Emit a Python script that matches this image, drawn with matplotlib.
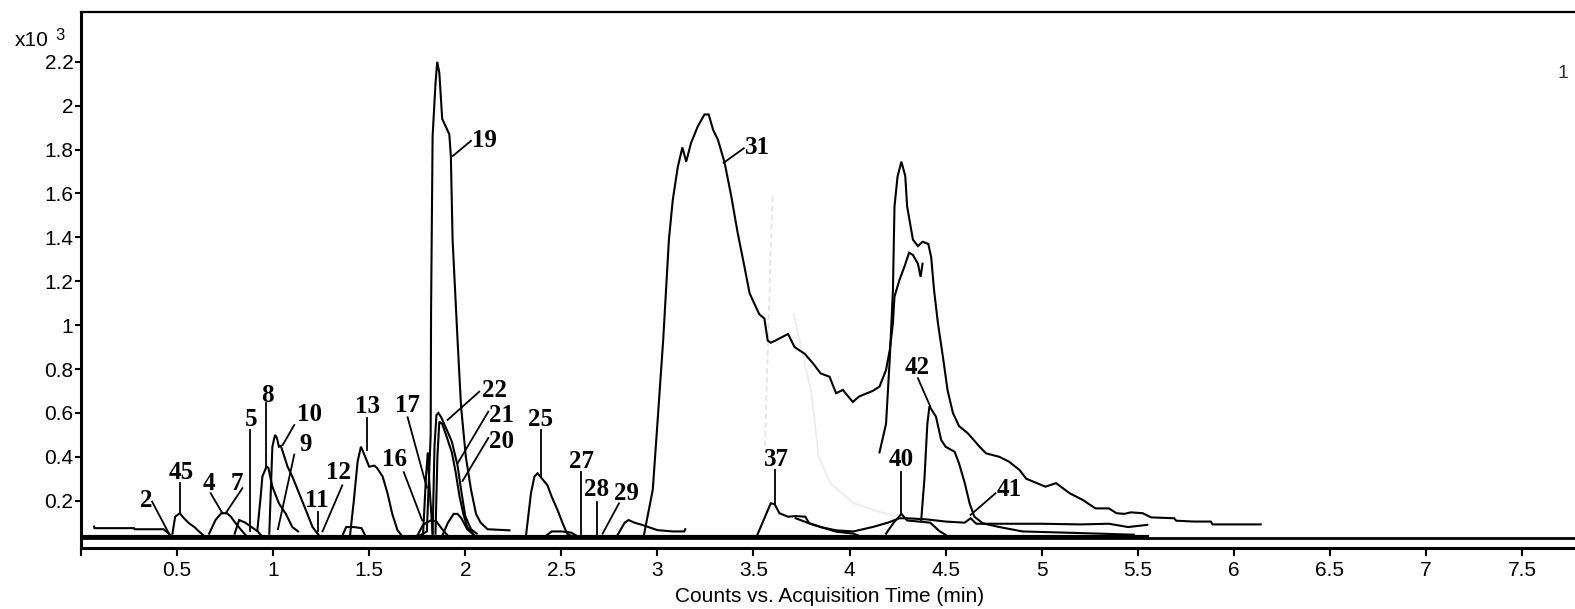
import matplotlib
matplotlib.use("Agg")
import matplotlib.pyplot as plt

# retention time (min) and counts (x10^3)
floor_t = [0.0, 7.78]
floor_y = [0.03, 0.03]
floor2_t = [0.0, 5.55]
floor2_y = [0.034, 0.034]

front_t = [0.068, 0.07, 0.276, 0.28, 0.43, 0.45, 0.47]
front_y = [0.082, 0.075, 0.075, 0.07, 0.07, 0.055, 0.04]

p45_t = [0.476, 0.49, 0.514, 0.536, 0.5625, 0.59, 0.614, 0.64]
p45_y = [0.05, 0.127, 0.143, 0.12, 0.097, 0.08, 0.06, 0.04]

p4_t = [0.667, 0.7, 0.73, 0.76, 0.78, 0.805, 0.84, 0.86]
p4_y = [0.05, 0.112, 0.143, 0.143, 0.127, 0.097, 0.06, 0.04]

p7_t = [0.8, 0.823, 0.855, 0.887, 0.92, 0.94]
p7_y = [0.05, 0.112, 0.1, 0.08, 0.06, 0.04]

p8_t = [0.918, 0.935, 0.944, 0.965, 0.975, 0.996, 1.03, 1.066, 1.1, 1.13]
p8_y = [0.066, 0.218, 0.31, 0.355, 0.35, 0.264, 0.188, 0.14, 0.08, 0.06]

p10_t = [0.98, 0.996, 1.01, 1.02, 1.03, 1.04, 1.05, 1.075, 1.1, 1.135, 1.17, 1.205, 1.24]
p10_y = [0.05, 0.446, 0.5, 0.485, 0.446, 0.45, 0.424, 0.355, 0.31, 0.234, 0.158, 0.08, 0.04]

bump142_t = [1.36, 1.38, 1.42, 1.46, 1.48]
bump142_y = [0.04, 0.08, 0.08, 0.075, 0.04]

p13_t = [1.40, 1.42, 1.44, 1.457, 1.47, 1.50, 1.526, 1.54, 1.57, 1.595, 1.62, 1.647, 1.67]
p13_y = [0.04, 0.2, 0.38, 0.446, 0.42, 0.355, 0.36, 0.35, 0.31, 0.235, 0.14, 0.066, 0.04]

p16_t = [1.75, 1.78, 1.82, 1.85, 1.88, 1.91]
p16_y = [0.04, 0.09, 0.11, 0.105, 0.07, 0.04]

p17_t = [1.78, 1.795, 1.805, 1.815, 1.83]
p17_y = [0.04, 0.3, 0.42, 0.25, 0.05]

p19_t = [1.76, 1.80, 1.82, 1.822, 1.83, 1.845, 1.854, 1.865, 1.88, 1.917, 1.925,
         1.934, 1.96, 1.978, 2.003, 2.03, 2.056, 2.08, 2.116, 2.23]
p19_y = [0.04, 0.06, 0.5, 1.06, 1.86, 2.1, 2.2, 2.15, 1.94, 1.87, 1.77,
         1.39, 0.93, 0.63, 0.40, 0.25, 0.14, 0.10, 0.07, 0.065]

p20_t = [1.88, 1.91, 1.94, 1.96, 1.98, 2.01, 2.05]
p20_y = [0.04, 0.1, 0.14, 0.14, 0.12, 0.07, 0.04]

p21_t = [1.845, 1.855, 1.865, 1.88, 1.9, 1.93, 1.95, 1.97, 1.99, 2.01, 2.04]
p21_y = [0.05, 0.4, 0.56, 0.55, 0.5, 0.42, 0.33, 0.22, 0.14, 0.08, 0.05]

p22_t = [1.83, 1.84, 1.85, 1.86, 1.875, 1.9, 1.93, 1.96, 1.98, 2.0, 2.03, 2.06]
p22_y = [0.05, 0.45, 0.59, 0.6, 0.58, 0.53, 0.47, 0.36, 0.24, 0.13, 0.07, 0.05]

p25_t = [2.316, 2.342, 2.36, 2.376, 2.40, 2.428, 2.45, 2.48, 2.507, 2.53, 2.55]
p25_y = [0.04, 0.234, 0.31, 0.325, 0.30, 0.27, 0.218, 0.158, 0.097, 0.05, 0.04]

bump25_t = [2.42, 2.45, 2.5, 2.55, 2.58]
bump25_y = [0.04, 0.06, 0.06, 0.055, 0.04]

p29_t = [2.79, 2.83, 2.85, 2.88, 2.92, 2.97, 3.0, 3.08, 3.14, 3.145]
p29_y = [0.04, 0.1, 0.112, 0.1, 0.09, 0.075, 0.066, 0.06, 0.06, 0.07]

p31_t = [2.93, 2.976, 3.0, 3.03, 3.045, 3.06, 3.08, 3.106, 3.13, 3.15, 3.175, 3.21,
         3.245, 3.267, 3.29, 3.315, 3.35, 3.384, 3.418, 3.45, 3.48, 3.53, 3.557,
         3.574, 3.59, 3.615, 3.68, 3.714, 3.766, 3.81, 3.85, 3.896, 3.93, 3.965,
         4.017, 4.05, 4.12, 4.156, 4.19, 4.21, 4.226, 4.234, 4.26, 4.286, 4.31,
         4.33, 4.356, 4.37, 4.38]
p31_y = [0.044, 0.25, 0.55, 0.93, 1.16, 1.39, 1.57, 1.72, 1.81, 1.745, 1.83, 1.905,
         1.96, 1.96, 1.89, 1.845, 1.74, 1.59, 1.42, 1.28, 1.145, 1.05, 1.03,
         0.93, 0.92, 0.93, 0.96, 0.90, 0.87, 0.826, 0.78, 0.765, 0.69, 0.705,
         0.65, 0.675, 0.70, 0.72, 0.795, 0.89, 1.01, 1.13, 1.206, 1.267, 1.33,
         1.32, 1.28, 1.22, 1.28]

p37_t = [3.52, 3.59, 3.61, 3.635, 3.68, 3.72, 3.77, 3.79, 3.85, 3.93, 4.02, 4.05]
p37_y = [0.044, 0.188, 0.185, 0.143, 0.127, 0.13, 0.127, 0.097, 0.08, 0.059, 0.05, 0.04]

p40_t = [4.19, 4.23, 4.27, 4.3, 4.36, 4.42, 4.47, 4.5]
p40_y = [0.05, 0.1, 0.14, 0.11, 0.105, 0.1, 0.06, 0.045]

p41_t = [3.72, 3.78, 3.85, 3.93, 4.02, 4.12, 4.2, 4.26, 4.3, 4.4, 4.5, 4.6, 4.63,
         4.66, 4.8, 5.0, 5.2, 5.35, 5.45, 5.55]
p41_y = [0.12, 0.1, 0.08, 0.065, 0.06, 0.08, 0.1, 0.12, 0.12, 0.115, 0.105, 0.1, 0.12,
         0.095, 0.095, 0.095, 0.092, 0.095, 0.08, 0.09]

p42_t = [4.373, 4.39, 4.405, 4.416, 4.45, 4.477, 4.5, 4.547, 4.57, 4.6, 4.625, 4.65,
         4.694, 4.78, 4.9, 5.1, 5.3, 5.48]
p42_y = [0.11, 0.3, 0.55, 0.63, 0.583, 0.477, 0.446, 0.423, 0.37, 0.28, 0.188, 0.127,
         0.097, 0.08, 0.06, 0.055, 0.05, 0.045]

p43_t = [4.156, 4.19, 4.21, 4.226, 4.234, 4.25, 4.27, 4.29, 4.30, 4.33, 4.356, 4.38,
         4.41, 4.425, 4.44, 4.46, 4.486, 4.51, 4.538, 4.57, 4.616, 4.677, 4.71, 4.78,
         4.83, 4.885, 4.92, 5.02, 5.075, 5.146, 5.215, 5.28, 5.35, 5.39, 5.43, 5.465,
         5.526, 5.57, 5.69, 5.70, 5.79, 5.88, 5.89, 6.14]
p43_y = [0.42, 0.55, 0.856, 1.16, 1.54, 1.677, 1.745, 1.68, 1.54, 1.39, 1.36, 1.38,
         1.37, 1.31, 1.16, 1.01, 0.856, 0.705, 0.6, 0.54, 0.507, 0.446, 0.416, 0.40,
         0.378, 0.34, 0.30, 0.264, 0.28, 0.234, 0.203, 0.165, 0.165, 0.143, 0.14, 0.147,
         0.143, 0.124, 0.12, 0.109, 0.105, 0.105, 0.092, 0.092]

# faint grey ghost trace behind 31
ghost1_t = [3.56, 3.575, 3.59, 3.60]
ghost1_y = [0.45, 0.9, 1.35, 1.6]
ghost2_t = [3.71, 3.76, 3.80, 3.84, 3.9, 4.02, 4.15, 4.24]
ghost2_y = [1.05, 0.85, 0.7, 0.4, 0.28, 0.19, 0.15, 0.13]

# peak labels: text, label centre (t, y), leader start, leader end
peak_names = ["2", "45", "4", "7", "5", "8", "10", "9", "11", "12", "13", "16", "17",
              "19", "22", "21", "20", "25", "27", "28", "29", "31", "37", "40", "42", "41"]
label_t = [0.34, 0.52, 0.667, 0.81, 0.884, 0.97, 1.19, 1.17, 1.226, 1.34, 1.49, 1.63, 1.70,
           2.10, 2.15, 2.19, 2.19, 2.39, 2.607, 2.685, 2.84, 3.52, 3.62, 4.27, 4.35, 4.83]
label_y = [0.20, 0.33, 0.28, 0.28, 0.57, 0.68, 0.595, 0.455, 0.20, 0.33, 0.63, 0.39, 0.636,
           1.84, 0.70, 0.59, 0.47, 0.57, 0.38, 0.25, 0.235, 1.81, 0.39, 0.39, 0.805, 0.25]
lead_t0 = [0.37, 0.514, 0.675, 0.84, 0.88, 0.965, 1.11, 1.11, 1.236, 1.36, 1.486, 1.68, 1.70,
           2.03, 2.073, 2.12, 2.12, 2.394, 2.60, 2.685, 2.80, 3.45, 3.61, 4.27, 4.356, 4.76]
lead_y0 = [0.196, 0.28, 0.234, 0.257, 0.522, 0.644, 0.545, 0.41, 0.15, 0.27, 0.577, 0.33, 0.58,
           1.84, 0.697, 0.606, 0.486, 0.52, 0.33, 0.196, 0.188, 1.806, 0.34, 0.33, 0.758, 0.234]
lead_t1 = [0.458, 0.514, 0.736, 0.753, 0.88, 0.965, 1.05, 1.025, 1.236, 1.257, 1.486, 1.776, 1.80,
           1.934, 1.908, 1.96, 1.986, 2.394, 2.60, 2.685, 2.715, 3.345, 3.61, 4.27, 4.42, 4.63]
lead_y1 = [0.05, 0.143, 0.143, 0.143, 0.06, 0.355, 0.454, 0.07, 0.06, 0.06, 0.43, 0.11, 0.26,
           1.77, 0.568, 0.37, 0.29, 0.31, 0.05, 0.05, 0.05, 1.74, 0.188, 0.143, 0.63, 0.135]

x_ticks = [0, 0.5, 1, 1.5, 2, 2.5, 3, 3.5, 4, 4.5, 5, 5.5, 6, 6.5, 7, 7.5]
y_ticks = [0.2, 0.4, 0.6, 0.8, 1, 1.2, 1.4, 1.6, 1.8, 2, 2.2]

W, H = 1575, 609


def main():
   plt.rcParams['font.family'] = ['Liberation Sans', 'DejaVu Sans']
   fig = plt.figure(figsize=(W / 100, H / 100), dpi=100)
   ax = fig.add_axes([81 / W, 1 - 548 / H, 1 - 81 / W, (548 - 12) / H])

   ax.plot(ghost1_t, ghost1_y, color='#e4e4e4', lw=1.3, ls=(0, (3, 2)))
   ax.plot(ghost2_t, ghost2_y, color='#ececec', lw=1.3)

   ax.plot(floor_t, floor_y, color='black', lw=2.0)
   ax.plot(floor2_t, floor2_y, color='black', lw=3.0)

   traces = [(front_t, front_y), (p45_t, p45_y), (p4_t, p4_y), (p7_t, p7_y),
             (p8_t, p8_y), (p10_t, p10_y), (bump142_t, bump142_y), (p13_t, p13_y),
             (p16_t, p16_y), (p17_t, p17_y), (p19_t, p19_y), (p20_t, p20_y),
             (p21_t, p21_y), (p22_t, p22_y), (p25_t, p25_y), (bump25_t, bump25_y),
             (p29_t, p29_y), (p31_t, p31_y), (p37_t, p37_y), (p40_t, p40_y),
             (p41_t, p41_y), (p42_t, p42_y), (p43_t, p43_y)]
   for t, y in traces:
      ax.plot(t, y, color='black', lw=1.5, solid_joinstyle='miter')

   for i in range(len(peak_names)):
      ax.plot([lead_t0[i], lead_t1[i]], [lead_y0[i], lead_y1[i]], color='black', lw=1.3)
      ax.text(label_t[i], label_y[i], peak_names[i], ha='center', va='center',
              fontsize=18, fontweight='bold', family=['Liberation Serif', 'DejaVu Serif'])

   ax.set_xlim(0, 7.776)
   ax.set_ylim(-0.0155, 2.427)
   ax.set_xticks(x_ticks)
   ax.set_xticklabels(["" if v == 0 else "%g" % v for v in x_ticks])
   ax.set_yticks(y_ticks)
   ax.set_yticklabels(["%g" % v for v in y_ticks])
   ax.tick_params(axis='x', direction='out', length=6, width=1.5, pad=3, labelsize=15)
   ax.tick_params(axis='y', direction='out', length=4.5, width=1.5, pad=1, labelsize=15)

   ax.spines['right'].set_visible(False)
   ax.spines['left'].set_linewidth(2.2)
   ax.spines['bottom'].set_linewidth(2.2)
   ax.spines['top'].set_linewidth(1.6)

   fig.text(830 / W, 1 - 597 / H, "Counts vs. Acquisition Time (min)", ha='center',
            va='center', fontsize=15)
   fig.text(15 / W, 1 - 40 / H, "x10", ha='left', va='center', fontsize=15)
   fig.text(55 / W, 1 - 35 / H, "3", ha='left', va='center', fontsize=12)
   fig.text(1563 / W, 1 - 74 / H, "1", ha='center', va='center', fontsize=14, color='#333333')

   fig.savefig("out.png", dpi=100)
   plt.close()


if __name__ == "__main__":
   main()
